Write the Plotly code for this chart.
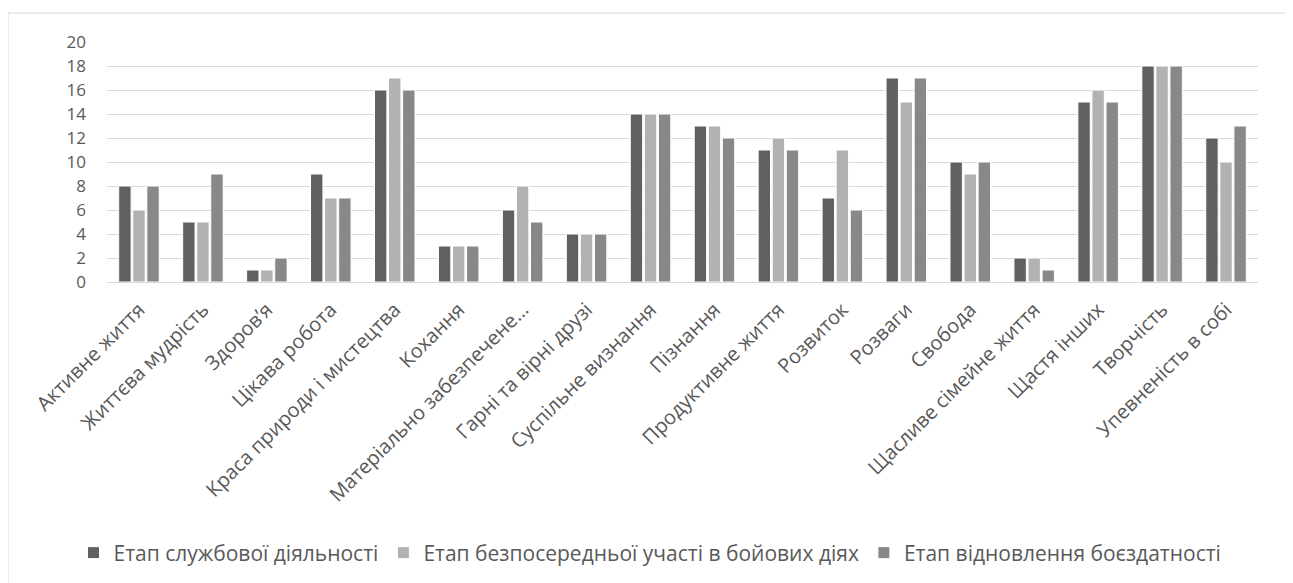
import plotly.graph_objects as go

categories = [
    "Активне життя", "Життєва мудрість", "Здоров’я", "Цікава робота",
    "Краса природи і мистецтва", "Кохання", "Матеріально забезпечене…",
    "Гарні та вірні друзі", "Суспільне визнання", "Пізнання",
    "Продуктивне життя", "Розвиток", "Розваги", "Свобода",
    "Щасливе сімейне життя", "Щастя інших", "Творчість", "Упевненість в собі",
]
series_names = [
    "Етап службової діяльності",
    "Етап безпосередньої участі в бойових діях",
    "Етап відновлення боєздатності",
]
service = [8, 5, 1, 9, 16, 3, 6, 4, 14, 13, 11, 7, 17, 10, 2, 15, 18, 12]
combat = [6, 5, 1, 7, 17, 3, 8, 4, 14, 13, 12, 11, 15, 9, 2, 16, 18, 10]
recovery = [8, 9, 2, 7, 16, 3, 5, 4, 14, 12, 11, 6, 17, 10, 1, 15, 18, 13]
y_ticks = list(range(0, 21, 2))

colors = ["#606060", "#b2b2b2", "#888888"]
FONT = "Open Sans"
TXT = "#595959"

fig = go.Figure()
for name, vals, col in zip(series_names, [service, combat, recovery], colors):
    fig.add_trace(go.Bar(
        x=categories, y=vals, name=name,
        marker=dict(color=col, line=dict(color="white", width=1)),
    ))

# page body has an 8px margin; work in page pixels and shift
OFF = 8
W, H = 1293 - OFF, 583 - OFF
L, R, T, B = 107 - OFF, 1258 - OFF, 42 - OFF, 282 - OFF
pw, ph = R - L, B - T

def px_x(p):
    return (p - OFF - L) / pw

def px_y(p):
    return (B - (p - OFF)) / ph

fig.update_layout(
    width=W, height=H,
    margin=dict(l=L, r=W - R, t=T, b=H - B, autoexpand=False),
    paper_bgcolor="white", plot_bgcolor="white",
    barmode="group", bargap=0.34, bargroupgap=0.12,
    font=dict(family=FONT, color=TXT, size=20),
    showlegend=True,
    legend=dict(
        orientation="h", x=px_x(650), xanchor="center",
        y=px_y(553), yanchor="middle",
        font=dict(family=FONT, size=21, color=TXT),
        itemwidth=30, traceorder="normal",
    ),
    xaxis=dict(
        type="category", tickangle=-45, showgrid=False,
        showline=True, linecolor="#d9d9d9", linewidth=1,
        ticks="", tickfont=dict(family=FONT, size=20, color=TXT),
        ticklabelstandoff=7,
    ),
    yaxis=dict(
        range=[0, 20], tickvals=y_ticks, showgrid=True,
        gridcolor="#d9d9d9", gridwidth=1, zeroline=False,
        showline=False, ticks="",
        tickfont=dict(family=FONT, size=17, color=TXT),
        ticklabelstandoff=20,
    ),
    shapes=[dict(
        type="rect", xref="paper", yref="paper",
        x0=px_x(8), x1=px_x(1287), y0=px_y(600), y1=px_y(13),
        line=dict(color="#d9d9d9", width=1), fillcolor="rgba(0,0,0,0)",
        layer="below",
    )],
)

fig.write_html("out.html")
